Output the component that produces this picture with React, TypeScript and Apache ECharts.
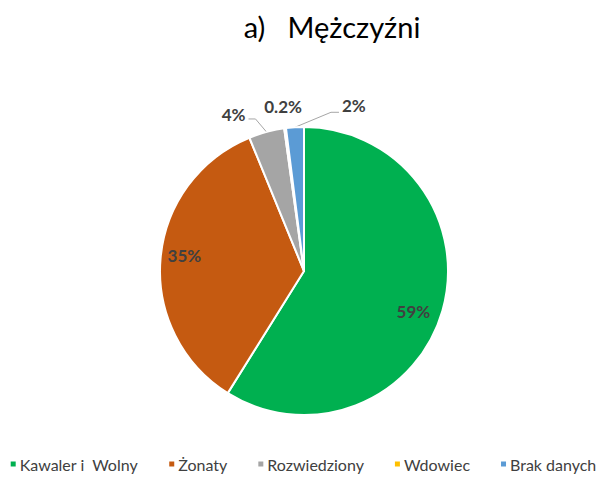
import React, { useEffect, useRef } from "react";
import * as echarts from "echarts";

const categories = ["Kawaler i  Wolny", "Żonaty", "Rozwiedziony", "Wdowiec", "Brak danych"];
const values = [59, 35, 4, 0.2, 2];
const colors = ["#00B050", "#C55A11", "#A5A5A5", "#FFC000", "#5B9BD5"];
const titleText = "a)   Mężczyźni";

export default function App() {
  const ref = useRef<HTMLDivElement>(null);
  useEffect(() => {
    if (!ref.current) return;
    const chart = echarts.init(ref.current, undefined, { renderer: "svg" });
    const font = "Lato, 'Open Sans', sans-serif";
    const labelBase = {
      fontFamily: font,
      fontSize: 17,
      fontWeight: "bold" as const,
      color: "#404040",
      formatter: "{c}%",
    };
    const lineColor = "#A6A6A6";
    chart.setOption({
      animation: false,
      color: colors,
      title: {
        text: titleText,
        left: 327,
        top: 7,
        textAlign: "center",
        textStyle: { fontFamily: font, fontSize: 29, fontWeight: "normal", color: "#000" },
      },
      legend: {
        top: 456,
        left: "center",
        icon: "rect",
        itemWidth: 7,
        itemHeight: 7,
        itemGap: 29,
        padding: 0,
        textStyle: { fontFamily: font, fontSize: 16, color: "#404040", padding: [0, 0, 0, -2] },
        data: categories,
      },
      series: [
        {
          type: "pie",
          center: [304, 271],
          radius: [0, 144],
          startAngle: 90,
          clockwise: true,
          avoidLabelOverlap: false,
          itemStyle: { borderColor: "#fff", borderWidth: 2 },
          labelLine: { lineStyle: { color: lineColor, width: 1 }, length: 14, length2: 9 },
          labelLayout: (p: any) => {
            const pts = p.labelLinePoints;
            if (!pts) return { hideOverlap: false, moveOverlap: false };
            const p0 = pts[0];
            if (p.dataIndex === 2) {
              const p1 = [p0[0] - 11, p0[1] - 13];
              const p2 = [p1[0] - 7, p1[1]];
              return {
                x: p2[0] - 3,
                y: p2[1] - 4,
                align: "right",
                verticalAlign: "middle",
                labelLinePoints: [p0, p1, p2],
                hideOverlap: false,
              };
            }
            if (p.dataIndex === 3) {
              return {
                x: p0[0] - 2,
                y: p0[1] - 22,
                align: "center",
                verticalAlign: "middle",
                hideOverlap: false,
              };
            }
            if (p.dataIndex === 4) {
              const p1 = [p0[0] + 36, p0[1] - 15];
              const p2 = [p1[0] + 8, p1[1]];
              return {
                x: p2[0] + 3,
                y: p2[1] - 7,
                align: "left",
                verticalAlign: "middle",
                labelLinePoints: [p0, p1, p2],
                hideOverlap: false,
              };
            }
            return { hideOverlap: false };
          },
          data: categories.map((name, i) => ({
            name,
            value: values[i],
            label:
              i < 2
                ? { show: false }
                : { show: true, position: "outside", ...labelBase },
            labelLine:
              i < 2
                ? { show: false }
                : i === 3
                ? { show: true, lineStyle: { opacity: 0 } }
                : { show: true },
          })),
        },
        {
          type: "pie",
          center: [304, 271],
          radius: [88, 144],
          startAngle: 90,
          clockwise: true,
          silent: true,
          legendHoverLink: false,
          itemStyle: { color: "transparent" },
          labelLine: { show: false },
          labelLayout: (p: any) => {
            if (p.dataIndex === 0) return { dx: -5, dy: 8, hideOverlap: false };
            if (p.dataIndex === 1) return { dx: -1, dy: -5, hideOverlap: false };
            return {};
          },
          data: categories.map((name, i) => ({
            name,
            value: values[i],
            label: i < 2 ? { show: true, position: "inside", ...labelBase } : { show: false },
          })),
        },
      ],
    });
    return () => chart.dispose();
  }, []);
  return (
    <div
      ref={ref}
      style={{ position: "fixed", left: 0, top: 0, width: 605, height: 479, background: "#fff" }}
    />
  );
}
